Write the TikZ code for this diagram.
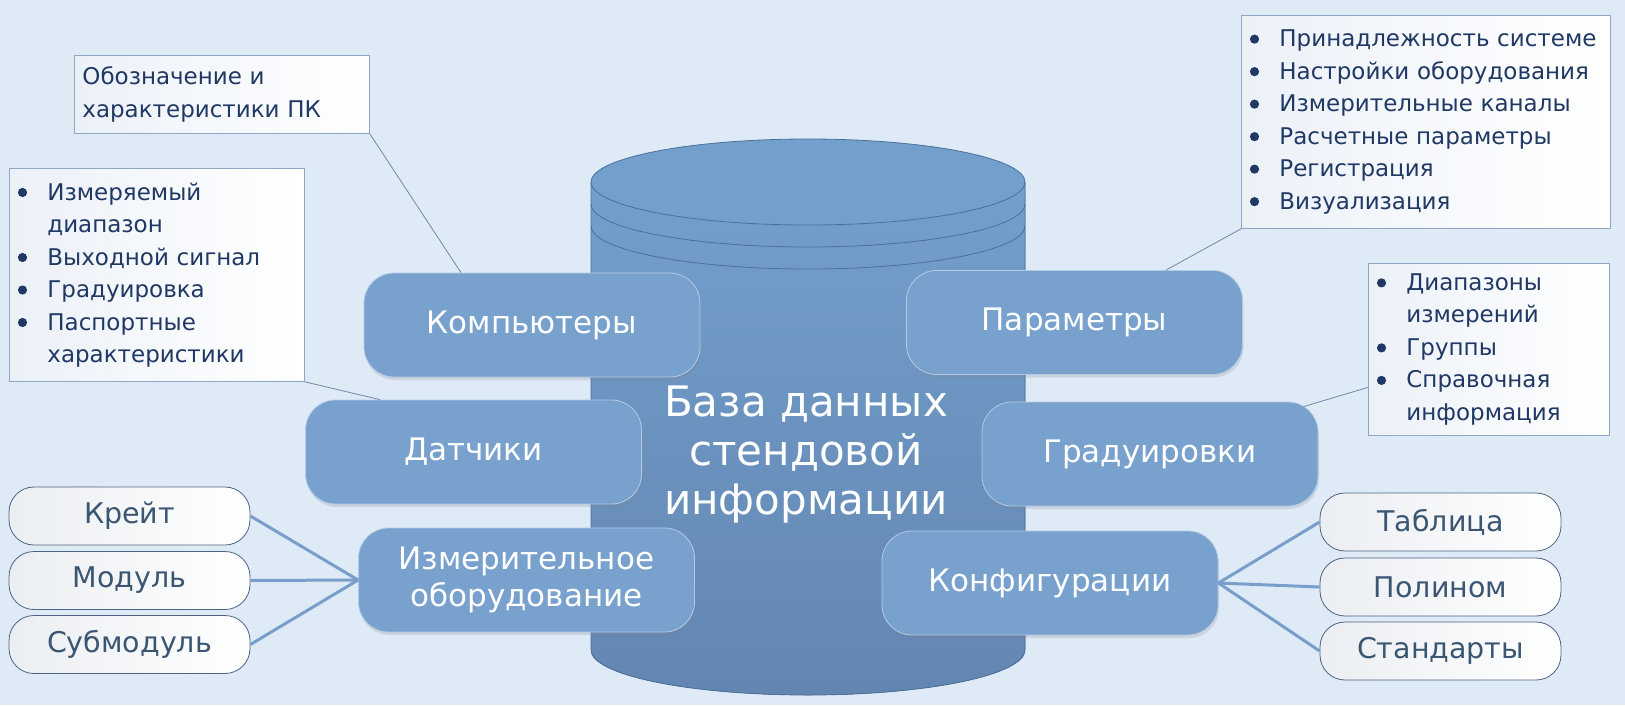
\documentclass[tikz,border=0pt]{standalone}
\usepackage{fontspec}
\setmainfont{DejaVu Sans}
\usetikzlibrary{shadows,calc}
\definecolor{bg}{HTML}{DEEAF6}
\definecolor{cyltop}{HTML}{739FCC}
\definecolor{cylbot}{HTML}{6386B1}
\definecolor{cylline}{HTML}{4C7099}
\definecolor{boxfill}{HTML}{79A1CE}
\definecolor{boxline}{HTML}{B5CBE4}
\definecolor{navy}{HTML}{1F3864}
\definecolor{slate}{HTML}{3A5673}
\definecolor{smline}{HTML}{4D6480}
\definecolor{noteline}{HTML}{8FA6C4}
\definecolor{thinc}{HTML}{6F89AC}
\definecolor{fanc}{HTML}{7A9ECB}
\definecolor{noteleft}{HTML}{ECF1F8}
\definecolor{smleft}{HTML}{EBEEF2}
\newcommand{\bdot}{\tikz[x=1pt,y=1pt,baseline=-7.5pt]\fill (0,0) circle[radius=4.6pt];}
\newcommand{\bl}[1]{\hspace*{6pt}\makebox[32pt][l]{\hspace*{2.5pt}\bdot}#1}
\newcommand{\cl}[1]{\hspace*{38pt}#1}
\begin{document}
\begin{tikzpicture}[x=1pt,y=-1pt,
  bluebox/.style={rectangle, rounded corners=30pt, minimum width=336pt, minimum height=104pt,
    fill=boxfill, draw=boxline, line width=0.8pt, text=white, font=\fontsize{31}{37}\selectfont,
    align=center, inner sep=0pt, drop shadow={opacity=0.2, shadow xshift=1pt, shadow yshift=-3pt}},
  smallbox/.style={rectangle, rounded corners=25pt, minimum width=241pt, minimum height=58pt,
    left color=smleft, right color=white, draw=smline, line width=0.8pt, text=slate,
    font=\fontsize{28.5}{32}\selectfont, inner sep=0pt},
  note/.style={rectangle, anchor=north west, left color=noteleft, right color=white,
    draw=noteline, line width=0.8pt, text=navy, font=\fontsize{23}{32.5}\selectfont,
    align=left, inner sep=0pt},
  thinline/.style={draw=thinc, line width=0.8pt},
  fanline/.style={draw=fanc, line width=3pt},
]
\useasboundingbox (0,0) rectangle (1625,705);
\fill[bg] (0,0) rectangle (1625,705);

% cylinder
\fill[top color=cyltop, bottom color=cylbot] (591,182) -- (591,650)
  arc[start angle=180, end angle=0, x radius=217, y radius=45] -- (1025,182) -- cycle;
\draw[cylline, line width=0.8pt] (591,182) -- (591,650)
  arc[start angle=180, end angle=0, x radius=217, y radius=45] -- (1025,182);
\draw[cylline, line width=0.8pt, fill=cyltop] (808,182) ellipse [x radius=217, y radius=43];
\draw[cylline, line width=0.8pt] (591,204) arc[start angle=180, end angle=0, x radius=217, y radius=43];
\draw[cylline, line width=0.8pt] (591,226) arc[start angle=180, end angle=0, x radius=217, y radius=43];

\node[text=white, font=\fontsize{42}{49}\selectfont, align=center] (title) at (806,455)
  {База данных\\стендовой\\информации};

% main boxes
\node[bluebox] (comp) at (532,325) {Компьютеры};
\node[bluebox] (sens) at (473.5,452) {Датчики};
\node[bluebox] (meas) at (526.5,580) {Измерительное\\оборудование};
\node[bluebox] (par) at (1074.5,322.5) {Параметры};
\node[bluebox] (grad) at (1150,454) {Градуировки};
\node[bluebox] (conf) at (1050,583) {Конфигурации};

% notes
\node[note, text width=295pt, minimum height=78pt] (pcnote) at (74,55)
  {\hspace*{8pt}Обозначение и\\\hspace*{8pt}характеристики ПК};
\node[note, text width=295pt, minimum height=213pt] (sensnote) at (9,168)
  {\bl{Измеряемый}\\\cl{диапазон}\\\bl{Выходной сигнал}\\\bl{Градуировка}\\\bl{Паспортные}\\\cl{характеристики}};
\node[note, text width=369pt, minimum height=213pt] (parnote) at (1241,15)
  {\bl{Принадлежность системе}\\\bl{Настройки оборудования}\\\bl{Измерительные каналы}\\\bl{Расчетные параметры}\\\bl{Регистрация}\\\bl{Визуализация}};
\node[note, text width=241pt, minimum height=172pt] (gradnote) at (1368,263)
  {\bl{Диапазоны}\\\cl{измерений}\\\bl{Группы}\\\bl{Справочная}\\\cl{информация}};

% small boxes
\node[smallbox] (krate) at (129.5,516) {Крейт};
\node[smallbox] (modul) at (129.5,580.5) {Модуль};
\node[smallbox] (submod) at (129.5,644.5) {Субмодуль};
\node[smallbox] (table) at (1440.5,522) {Таблица};
\node[smallbox] (poly) at (1440.5,587) {Полином};
\node[smallbox] (std) at (1440.5,651) {Стандарты};

% connectors
\draw[thinline] (pcnote.south east) -- ([xshift=-71pt]comp.north);
\draw[thinline] (sensnote.south east) -- ([xshift=-93.5pt]sens.north);
\draw[thinline] (parnote.south west) -- ([xshift=91.5pt]par.north);
\draw[thinline] ([yshift=-38pt]gradnote.west) -- ([xshift=-15pt,yshift=-5pt]grad.north east);

\draw[fanline] (krate.east) -- (meas.west);
\draw[fanline] (modul.east) -- (meas.west);
\draw[fanline] (submod.east) -- (meas.west);
\draw[fanline] (conf.east) -- (table.west);
\draw[fanline] (conf.east) -- (poly.west);
\draw[fanline] (conf.east) -- (std.west);
\end{tikzpicture}
\end{document}
